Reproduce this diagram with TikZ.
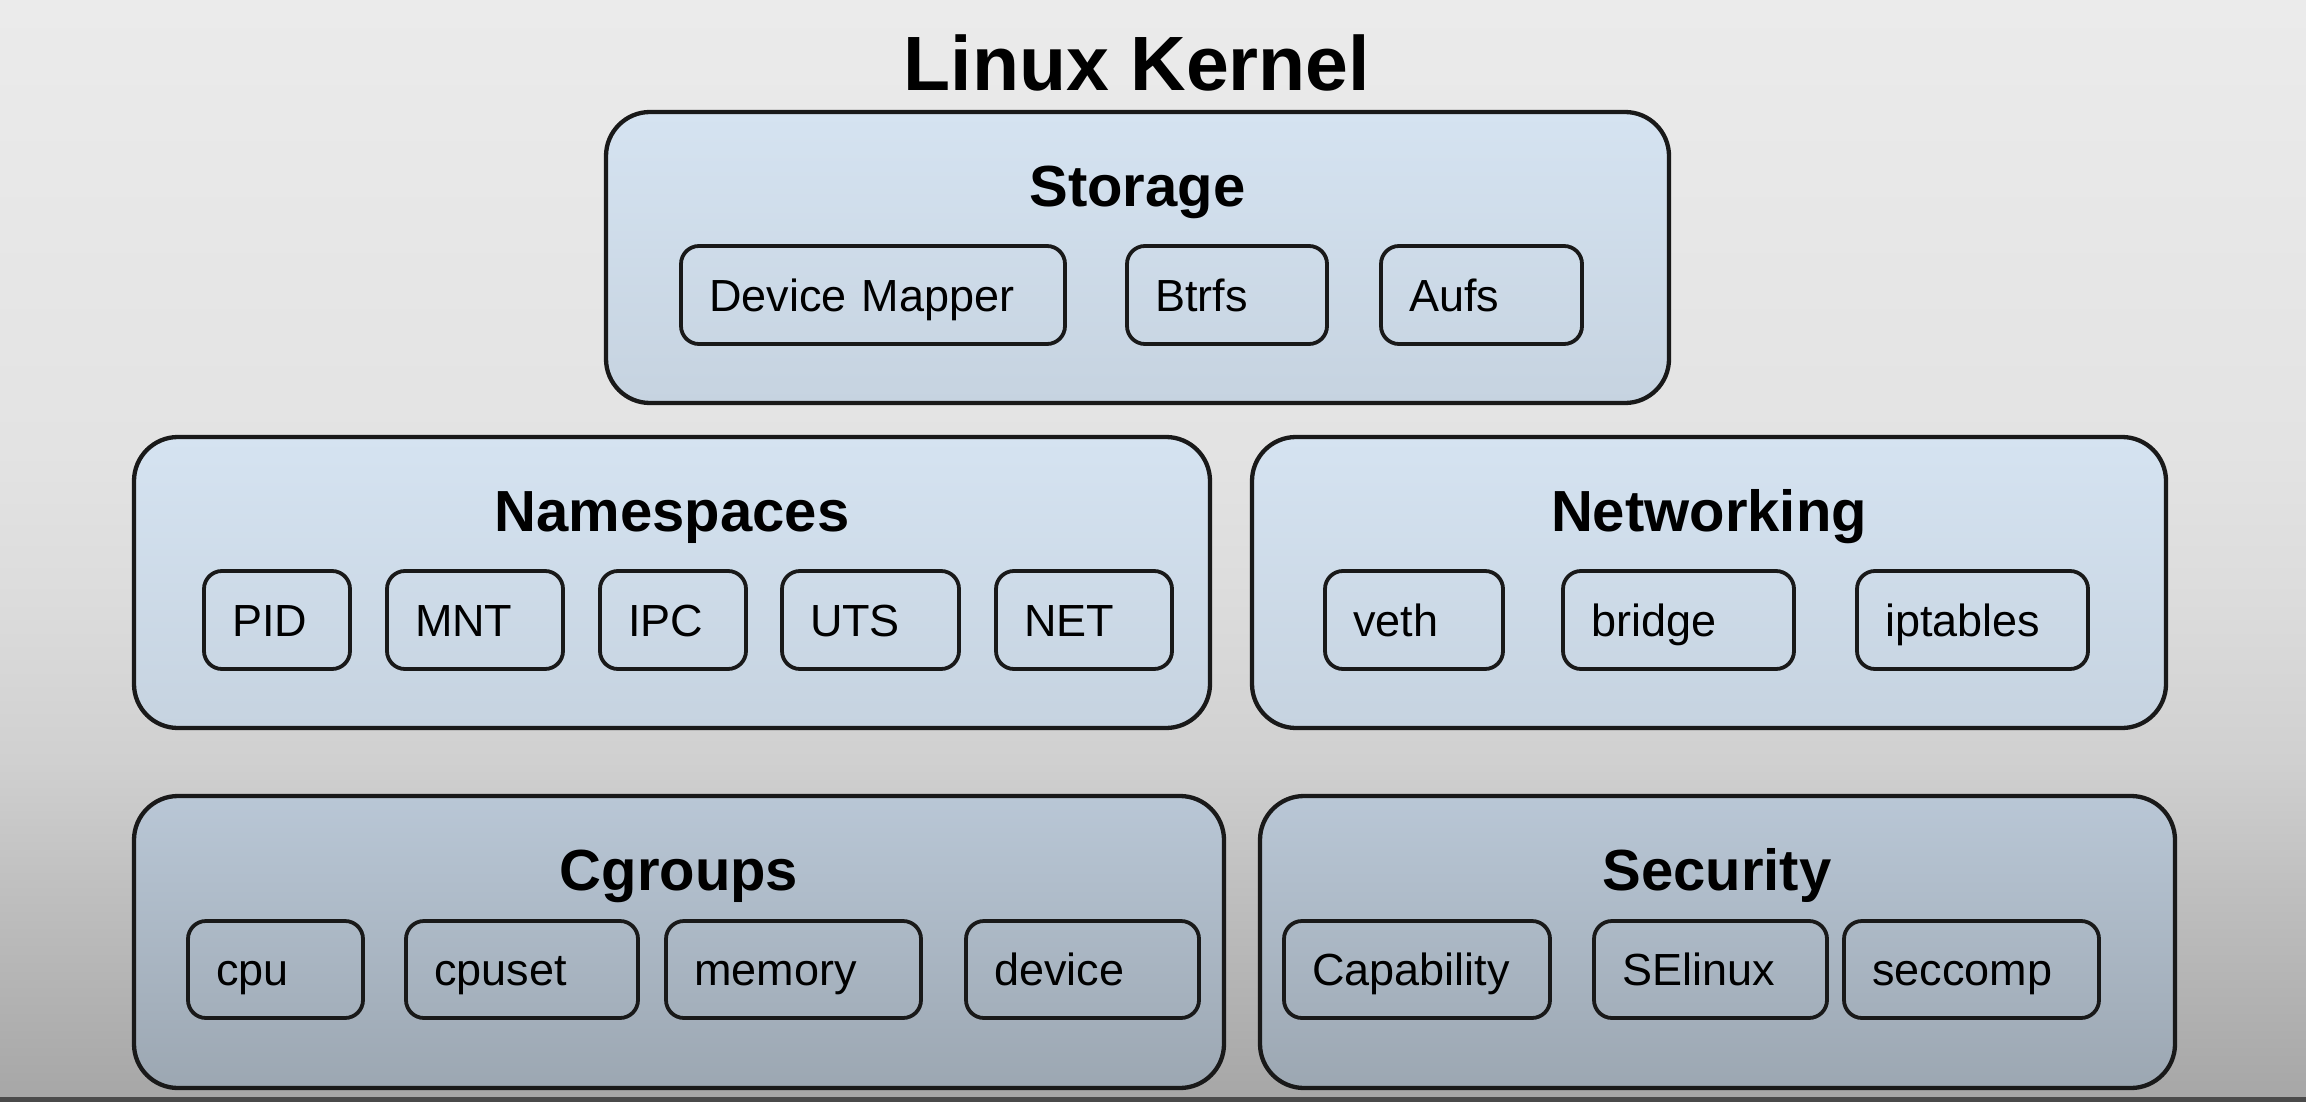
\documentclass[tikz,border=0pt]{standalone}
\usepackage{fontspec}
\setmainfont{Liberation Sans}
\definecolor{bgA}{HTML}{EBEBEB}
\definecolor{bgB}{HTML}{E3E3E3}
\definecolor{bgC}{HTML}{DCDCDC}
\definecolor{bgD}{HTML}{D0D0D0}
\definecolor{bgE}{HTML}{BEBEBE}
\definecolor{bgF}{HTML}{A6A6A6}
\definecolor{strip}{HTML}{4A4A4A}
\definecolor{lbTop}{HTML}{D5E3F1}
\definecolor{lbBot}{HTML}{C6D3E0}
\definecolor{dbTop}{HTML}{B9C7D6}
\definecolor{dbBot}{HTML}{9CA7B2}
\pgfdeclareverticalshading{bggrad}{100bp}{color(0bp)=(bgF); color(25bp)=(bgF); color(34.2bp)=(bgE); color(40.5bp)=(bgD); color(47.8bp)=(bgC); color(54.6bp)=(bgB); color(75bp)=(bgA); color(100bp)=(bgA)}
\newcommand\itemfont{\fontsize{45}{54}\selectfont}
\newcommand\labfont{\fontsize{58}{70}\selectfont\bfseries}
\newcommand\titfont{\fontsize{77}{92}\selectfont\bfseries}
\tikzset{
  outerbox/.style={draw=black!90, line width=4.3pt, rounded corners=44pt, outer sep=0pt, inner sep=0pt, anchor=north west},
  lightbox/.style={outerbox, top color=lbTop, bottom color=lbBot},
  darkbox/.style={outerbox, top color=dbTop, bottom color=dbBot},
  itm/.style={draw=black!90, line width=3.8pt, rounded corners=18pt, outer sep=0pt, anchor=north west,
    inner xsep=28pt, inner ysep=0pt, align=left, text height=32.2pt, text depth=0pt, font=\itemfont},
  lab/.style={anchor=base, font=\labfont, inner sep=0pt},
}
\begin{document}
\begin{tikzpicture}[x=1pt,y=-1pt]
\useasboundingbox (0,0) rectangle (2306,1102);
\fill[shading=bggrad] (0,0) rectangle (2306,1102);
\fill[strip] (0,1097) rectangle (2306,1102);

\node[anchor=base, font=\titfont, inner sep=0pt] (title) at (1137,91) {Linux Kernel};

% Storage
\node[lightbox, minimum width=1063pt, minimum height=291pt] (storage) at (606,112) {};
\node[lab] (storageT) at (1137.5,207) {Storage};
\node[itm, minimum width=384pt, minimum height=98pt, text width=328pt] (dm) at (681,246) {Device Mapper};
\node[itm, minimum width=200pt, minimum height=98pt, text width=144pt] (btrfs) at (1127,246) {Btrfs};
\node[itm, minimum width=201pt, minimum height=98pt, text width=145pt] (aufs) at (1381,246) {Aufs};

% Namespaces
\node[lightbox, minimum width=1076pt, minimum height=291pt] (ns) at (134,437) {};
\node[lab] (nsT) at (672,531) {Namespaces};
\node[itm, minimum width=146pt, minimum height=98pt, text width=90pt] (pid) at (204,571) {PID};
\node[itm, minimum width=176pt, minimum height=98pt, text width=120pt] (mnt) at (387,571) {MNT};
\node[itm, minimum width=146pt, minimum height=98pt, text width=90pt] (ipc) at (600,571) {IPC};
\node[itm, minimum width=177pt, minimum height=98pt, text width=121pt] (uts) at (782,571) {UTS};
\node[itm, minimum width=176pt, minimum height=98pt, text width=120pt] (net) at (996,571) {NET};

% Networking
\node[lightbox, minimum width=914pt, minimum height=291pt] (netw) at (1252,437) {};
\node[lab] (netwT) at (1709,531) {Networking};
\node[itm, minimum width=178pt, minimum height=98pt, text width=122pt] (veth) at (1325,571) {veth};
\node[itm, minimum width=231pt, minimum height=98pt, text width=175pt] (bridge) at (1563,571) {bridge};
\node[itm, minimum width=231pt, minimum height=98pt, text width=175pt] (iptables) at (1857,571) {iptables};

% Cgroups
\node[darkbox, minimum width=1090pt, minimum height=292pt] (cg) at (134,796) {};
\node[lab] (cgT) at (679,890) {Cgroups};
\node[itm, minimum width=175pt, minimum height=97pt, text width=119pt] (cpu) at (188,921) {cpu};
\node[itm, minimum width=232pt, minimum height=97pt, text width=176pt] (cpuset) at (406,921) {cpuset};
\node[itm, minimum width=255pt, minimum height=97pt, text width=199pt] (memory) at (666,921) {memory};
\node[itm, minimum width=233pt, minimum height=97pt, text width=177pt] (device) at (966,921) {device};

% Security
\node[darkbox, minimum width=915pt, minimum height=292pt] (sec) at (1260,796) {};
\node[lab] (secT) at (1717,890) {Security};
\node[itm, minimum width=266pt, minimum height=97pt, text width=210pt] (cap) at (1284,921) {Capability};
\node[itm, minimum width=233pt, minimum height=97pt, text width=177pt] (selinux) at (1594,921) {SElinux};
\node[itm, minimum width=255pt, minimum height=97pt, text width=199pt] (seccomp) at (1844,921) {seccomp};
\end{tikzpicture}
\end{document}
